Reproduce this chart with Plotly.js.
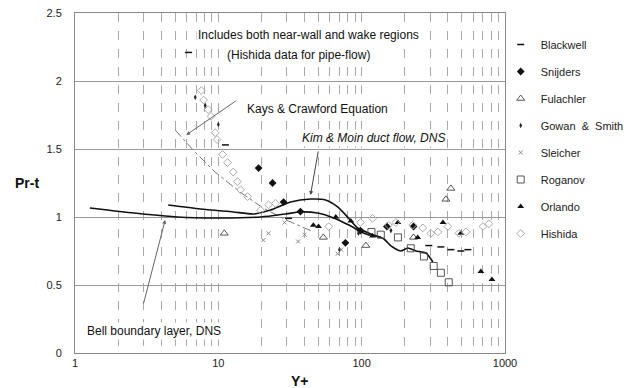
<!DOCTYPE html>
<html>
<head>
<meta charset="utf-8">
<script src="https://cdn.plot.ly/plotly-3.0.1.min.js"></script>
<style>html,body{margin:0;padding:0;background:#fff;}#chart{width:641px;height:388px;}</style>
</head>
<body>
<div id="chart"></div>
<script>
// ---- data ----
const blackwellX = [6.2, 11.2, 30.9, 294, 357, 419, 492, 551];
const blackwellY = [2.21, 1.53, 0.99, 0.79, 0.78, 0.76, 0.75, 0.76];

const snijdersX = [19.1, 23.9, 28.5, 37.4, 77, 98, 150, 230];
const snijdersY = [1.36, 1.25, 1.11, 1.04, 0.81, 0.90, 0.93, 0.93];

const fulachlerX = [11.0, 54, 107, 230, 387, 419];
const fulachlerY = [0.88, 0.85, 0.79, 0.85, 1.13, 1.21];

const gowanX = [6.9, 8.1, 10.0, 70, 95, 160];
const gowanY = [1.88, 1.82, 1.68, 0.76, 0.88, 0.90];

const sleicherX = [20.6, 22.4, 29, 36, 40, 68, 72];
const sleicherY = [0.83, 0.88, 0.96, 0.82, 0.87, 0.73, 0.76];

const roganovX = [117, 136, 179, 220, 272, 318, 357, 405];
const roganovY = [0.89, 0.87, 0.85, 0.77, 0.71, 0.64, 0.59, 0.52];

const orlandoX = [46, 50, 66, 84, 119, 179, 246, 369, 492, 679, 811];
const orlandoY = [0.94, 0.93, 1.00, 0.97, 0.86, 0.96, 0.85, 0.96, 0.88, 0.60, 0.54];

const hishidaX = [7.6, 7.9, 8.5, 8.9, 9.5, 9.8, 10.7, 11.6, 12.7, 13.6, 14.3, 16.0, 19.7, 22.4, 25,
                  59, 98, 119, 154, 173, 227, 267, 304, 340, 399, 477, 534, 702, 773];
const hishidaY = [1.93, 1.86, 1.79, 1.74, 1.62, 1.57, 1.46, 1.40, 1.33, 1.26, 1.20, 1.15, 1.05, 1.09, 1.10,
                  0.93, 0.96, 0.99, 0.94, 0.96, 0.94, 0.92, 0.88, 0.89, 0.93, 0.88, 0.89, 0.93, 0.95];

// Kays & Crawford equation curve
const kaysX = [5.0, 6.7, 9.5, 14.3, 20.3, 29.4, 44];
const kaysY = [1.64, 1.49, 1.33, 1.18, 1.07, 0.98, 0.90];

// DNS curves (solid lines)
const dnsUpperX = [4.47, 7.48, 12.7, 17.6, 23.1, 31.9, 44.0, 56.0, 67.9, 79.8, 93.8, 116, 143, 160, 187, 210, 239, 281, 314];
const dnsUpperY = [1.088, 1.059, 1.037, 1.022, 1.051, 1.110, 1.132, 1.125, 1.074, 1.000, 0.919, 0.875, 0.838, 0.787, 0.750, 0.772, 0.750, 0.735, 0.669];
const dnsLowerX = [1.27, 2.99, 5.17, 9.84, 19.7, 29.4, 37.4, 49.2, 63.7, 83.8, 107, 136];
const dnsLowerY = [1.066, 1.022, 1.000, 0.993, 1.000, 1.022, 1.037, 1.029, 0.993, 0.934, 0.875, 0.853];

const decades = [1, 10, 100];
const tickVals = [];
const tickText = [];
decades.forEach(d => { for (let k = 1; k <= 9; k++) { tickVals.push(k * d); tickText.push(k === 1 ? String(d) : ''); } });
tickVals.push(1000); tickText.push('1000');
const yTickVals = [0, 0.5, 1, 1.5, 2, 2.5];
const yTickText = ['0', '0.5', '1', '1.5', '2', '2.5'];

// ---- traces ----
const FAM = 'Arial, Liberation Sans, sans-serif';
const legFont = {family: FAM, size: 11, color: '#222'};
function pts(name, x, y, marker, i) {
  return {type: 'scatter', mode: 'markers', name: name, x: x, y: y, marker: marker,
          legendgroup: 'g' + i, showlegend: true, hoverinfo: 'skip'};
}
const traces = [
  {type: 'scatter', mode: 'lines', x: kaysX, y: kaysY, line: {color: '#777', width: 1, dash: 'dashdot'}, showlegend: false, hoverinfo: 'skip'},
  {type: 'scatter', mode: 'lines', x: dnsLowerX, y: dnsLowerY, line: {color: '#111', width: 1.6, shape: 'spline'}, showlegend: false, hoverinfo: 'skip'},
  {type: 'scatter', mode: 'lines', x: dnsUpperX, y: dnsUpperY, line: {color: '#111', width: 1.6, shape: 'spline', smoothing: 0.6}, showlegend: false, hoverinfo: 'skip'},
  pts('Blackwell', blackwellX, blackwellY, {symbol: 'line-ew', size: 5, line: {color: '#111', width: 1.5}}, 1),
  pts('Snijders', snijdersX, snijdersY, {symbol: 'diamond', size: 6, color: '#111'}, 2),
  pts('Fulachler', fulachlerX, fulachlerY, {symbol: 'triangle-up-open', size: 7, color: '#444', line: {width: 0.9}}, 3),
  pts('Gowan  &  Smith', gowanX, gowanY, {symbol: 'diamond-tall', size: 4, color: '#222'}, 4),
  pts('Sleicher', sleicherX, sleicherY, {symbol: 'x-thin', size: 4, line: {color: '#888', width: 1}}, 5),
  pts('Roganov', roganovX, roganovY, {symbol: 'square-open', size: 7, color: '#444', line: {width: 0.9}}, 6),
  pts('Orlando', orlandoX, orlandoY, {symbol: 'triangle-up', size: 6, color: '#111'}, 7),
  pts('Hishida', hishidaX, hishidaY, {symbol: 'diamond-open', size: 6, color: '#aaa', line: {width: 1}}, 8)
];

const txtFont = {family: FAM, size: 12, color: '#111'};
const layout = {
  width: 641, height: 388,
  margin: {l: 75, r: 136, t: 13, b: 35, autoexpand: false},
  paper_bgcolor: '#fff', plot_bgcolor: '#fff',
  showlegend: true,
  legend: {x: 0.99, y: 0.95, xanchor: 'left', yanchor: 'top', font: legFont,
           tracegroupgap: 8, itemwidth: 30, bgcolor: 'rgba(0,0,0,0)'},
  xaxis: {type: 'log', range: [0, 3], tickvals: tickVals, ticktext: tickText,
          showgrid: true, gridcolor: '#aaa', griddash: 'dash', gridwidth: 1,
          showline: true, mirror: true, linecolor: '#888', linewidth: 1,
          ticks: '', zeroline: false, automargin: false,
          tickfont: {family: FAM, size: 11, color: '#222'}},
  yaxis: {range: [0, 2.5], tickvals: yTickVals, ticktext: yTickText,
          showgrid: true, gridcolor: '#999', gridwidth: 1,
          showline: true, mirror: true, linecolor: '#888', linewidth: 1,
          ticks: '', zeroline: false, ticklabelstandoff: 10, automargin: false,
          tickfont: {family: FAM, size: 11, color: '#222'}},
  annotations: [
    {xref: 'paper', yref: 'paper', x: 0.542, y: 0.962, xanchor: 'center', text: 'Includes both near-wall and wake regions', showarrow: false, font: txtFont, bgcolor: '#fff'},
    {xref: 'paper', yref: 'paper', x: 0.519, y: 0.903, xanchor: 'center', text: '(Hishida data for pipe-flow)', showarrow: false, font: txtFont, bgcolor: '#fff'},
    {xref: 'paper', yref: 'paper', x: 0.395, y: 0.744, xanchor: 'left', text: 'Kays &amp; Crawford Equation', showarrow: false, font: txtFont, bgcolor: '#fff'},
    {xref: 'paper', yref: 'paper', x: 0.523, y: 0.632, xanchor: 'left', text: '<i>Kim &amp; Moin duct flow, DNS</i>', showarrow: false, font: txtFont, bgcolor: '#fff'},
    {xref: 'paper', yref: 'paper', x: 0.023, y: 0.038, xanchor: 'left', text: 'Bell boundary layer, DNS', showarrow: false, font: txtFont, bgcolor: '#fff'},
    {xref: 'paper', yref: 'paper', x: -0.144, y: 0.5, xanchor: 'left', text: '<b>Pr-t</b>', showarrow: false, font: {family: FAM, size: 14, color: '#111'}},
    {xref: 'paper', yref: 'paper', x: 0.523, y: -0.082, xanchor: 'center', yanchor: 'middle', text: '<b>Y+</b>', showarrow: false, font: {family: FAM, size: 14, color: '#111'}},
    // arrows
    {xref: 'x', yref: 'y', x: 0.776, y: 1.603, ax: 51, ay: -35, text: '', showarrow: true, arrowhead: 2, arrowsize: 0.8, arrowwidth: 1, arrowcolor: '#666'},
    {xref: 'x', yref: 'y', x: 1.643, y: 1.162, ax: 8, ay: -45, text: '', showarrow: true, arrowhead: 2, arrowsize: 0.8, arrowwidth: 1, arrowcolor: '#444'},
    {xref: 'x', yref: 'y', x: 0.629, y: 0.978, ax: -22, ay: 85, text: '', showarrow: true, arrowhead: 2, arrowsize: 0.8, arrowwidth: 1, arrowcolor: '#666'}
  ]
};

Plotly.newPlot('chart', traces, layout, {displayModeBar: false, staticPlot: true});
</script>
</body>
</html>
